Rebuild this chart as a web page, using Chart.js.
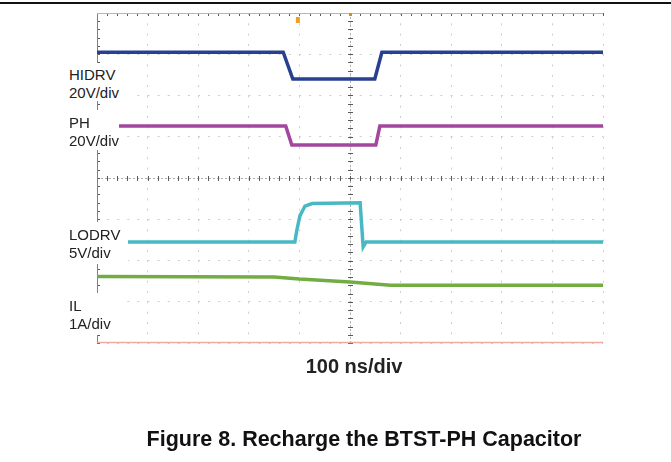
<!DOCTYPE html>
<html>
<head>
<meta charset="utf-8">
<script src="https://cdn.jsdelivr.net/npm/chart.js@4/dist/chart.umd.min.js"></script>
<style>
  html, body { margin: 0; padding: 0; background: #fff; }
  #wrap { position: relative; width: 671px; height: 462px; overflow: hidden; font-family: "Liberation Sans", Arial, sans-serif; }
  #scope { position: absolute; left: 0; top: 0; }
  .rule { position: absolute; left: 0; top: 2px; width: 671px; height: 2px; background: #111; }
  .lbl { position: absolute; left: 60px; background: #fff; box-sizing: border-box; padding-left: 9px;
         font-size: 15px; line-height: 18px; color: #222; white-space: nowrap; }
  .axis { position: absolute; left: 254px; top: 356px; width: 200px; text-align: center;
          font-weight: bold; font-size: 20px; line-height: 20px; color: #222; }
  .caption { position: absolute; left: 64px; top: 429px; width: 600px; text-align: center;
             font-weight: bold; font-size: 21.5px; line-height: 21.5px; color: #111; }
</style>
</head>
<body>
<div id="wrap">
  <canvas id="scope" width="671" height="462"></canvas>
  <div class="rule"></div>
  <div class="lbl" style="top:63px;height:38px;width:76px;padding-top:3.3px">HIDRV<br>20V/div</div>
  <div class="lbl" style="top:110px;height:40px;width:59px;padding-top:3.8px">PH<br>20V/div</div>
  <div class="lbl" style="top:222px;height:42px;width:68px;padding-top:3.8px">LODRV<br>5V/div</div>
  <div class="lbl" style="top:293px;height:42px;width:60px;padding-top:4.3px">IL<br>1A/div</div>
  <div class="axis">100 ns/div</div>
  <div class="caption">Figure 8. Recharge the BTST-PH Capacitor</div>
</div>
<script>
// time in ns (100 ns/div, 10 div), level in screen divisions (0..8 from bottom)
const hidrvTime = [0, 368, 387, 549, 563, 1000];
const hidrvDiv  = [7.05, 7.05, 6.40, 6.40, 7.05, 7.05];

const phTime = [0, 373, 385, 551, 559, 1000];
const phDiv  = [5.26, 5.26, 4.80, 4.80, 5.26, 5.26];

const lodrvTime = [0, 391, 395, 401, 411, 425, 520, 526, 532, 1000];
const lodrvDiv  = [2.45, 2.45, 2.74, 3.08, 3.32, 3.38, 3.40, 2.33, 2.45, 2.45];

const ilTime = [0, 350, 400, 500, 580, 1000];
const ilDiv  = [1.61, 1.60, 1.55, 1.48, 1.40, 1.40];

const timeDivNs = 100;
const vertDivs = 8;
const triggerNs = 397;

function pts(t, v) {
  return t.map((x, i) => ({ x: x, y: v[i] }));
}

function trace(label, t, v, color) {
  return {
    label: label,
    data: pts(t, v),
    borderColor: color,
    borderWidth: 3.5,
    pointRadius: 0,
    tension: 0,
    fill: false
  };
}

// oscilloscope frame: center cross with subdivision ticks, borders, trigger mark
const scopeFrame = {
  id: "scopeFrame",
  beforeDatasetsDraw(chart) {
    const { ctx, chartArea: a, scales: { x, y } } = chart;
    const cx = x.getPixelForValue(500);
    const cy = y.getPixelForValue(vertDivs / 2);
    ctx.save();
    ctx.lineWidth = 1;

    // center lines
    ctx.strokeStyle = "#b0b0b0";
    ctx.setLineDash([2, 2]);
    ctx.beginPath();
    ctx.moveTo(cx + 0.5, a.top); ctx.lineTo(cx + 0.5, a.bottom);
    ctx.moveTo(a.left, cy + 0.5); ctx.lineTo(a.right, cy + 0.5);
    ctx.stroke();
    ctx.setLineDash([]);

    // subdivision ticks
    ctx.strokeStyle = "#5a5a5a";
    ctx.beginPath();
    for (let t = 0; t <= 1000; t += timeDivNs / 5) {
      const px = Math.round(x.getPixelForValue(t)) + 0.5;
      ctx.moveTo(px, cy - 2); ctx.lineTo(px, cy + 3);
      ctx.moveTo(px, a.top); ctx.lineTo(px, a.top + 3);
    }
    for (let d = 0; d <= vertDivs; d += 0.2) {
      const py = Math.round(y.getPixelForValue(d)) + 0.5;
      ctx.moveTo(cx - 2, py); ctx.lineTo(cx + 3, py);
      ctx.moveTo(a.left, py); ctx.lineTo(a.left + 3, py);
    }
    ctx.stroke();

    // borders
    ctx.strokeStyle = "#8a7f78";
    ctx.beginPath();
    ctx.moveTo(a.left + 0.5, a.top); ctx.lineTo(a.left + 0.5, a.bottom);
    ctx.stroke();
    ctx.strokeStyle = "#c9b29a";
    ctx.beginPath();
    ctx.moveTo(a.left, a.top + 0.5); ctx.lineTo(a.right, a.top + 0.5);
    ctx.stroke();
    ctx.strokeStyle = "#f2aaa0";
    ctx.lineWidth = 1.5;
    ctx.beginPath();
    ctx.moveTo(a.left, a.bottom - 0.5); ctx.lineTo(a.right, a.bottom - 0.5);
    ctx.stroke();

    // trigger marker
    const tx = x.getPixelForValue(triggerNs);
    ctx.fillStyle = "#f0a020";
    ctx.fillRect(tx - 2, a.top + 4, 4, 6);
    ctx.fillStyle = "#e08a10";
    ctx.fillRect(cx - 1, a.top, 3, 3);
    ctx.restore();
  }
};

new Chart(document.getElementById("scope").getContext("2d"), {
  type: "line",
  data: {
    datasets: [
      trace("IL", ilTime, ilDiv, "#72ad44"),
      trace("LODRV", lodrvTime, lodrvDiv, "#48b9c4"),
      trace("PH", phTime, phDiv, "#a3479e"),
      trace("HIDRV", hidrvTime, hidrvDiv, "#28408f")
    ]
  },
  options: {
    responsive: false,
    animation: false,
    devicePixelRatio: 1,
    layout: { padding: { left: 97, right: 68, top: 13, bottom: 119 } },
    plugins: { legend: { display: false }, tooltip: { enabled: false } },
    scales: {
      x: {
        type: "linear",
        min: 0,
        max: 1000,
        ticks: { display: false, stepSize: timeDivNs },
        grid: { color: "#cdcdcd", lineWidth: 1, drawTicks: false },
        border: { display: false, dash: [2, 8.3] }
      },
      y: {
        type: "linear",
        min: 0,
        max: vertDivs,
        ticks: { display: false, stepSize: 1 },
        grid: { color: "#cdcdcd", lineWidth: 1, drawTicks: false },
        border: { display: false, dash: [2, 8.1] }
      }
    }
  },
  plugins: [scopeFrame]
});
</script>
</body>
</html>
